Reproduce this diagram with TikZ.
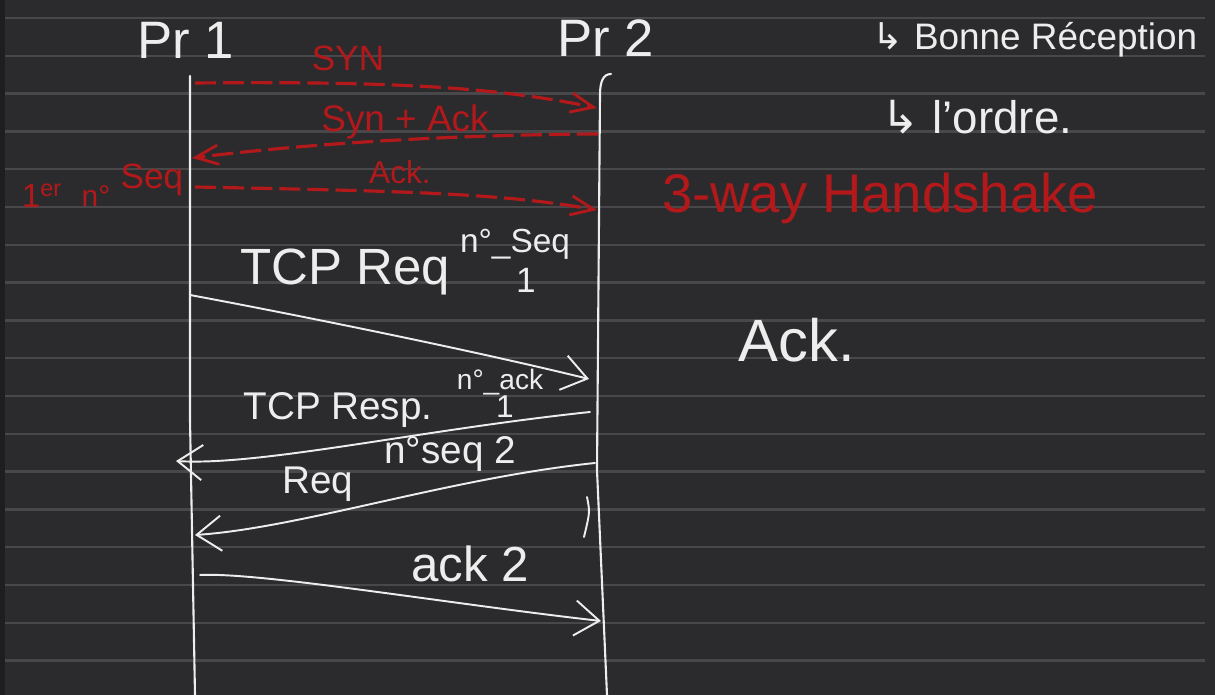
\documentclass[tikz,border=0pt]{standalone}
\usepackage{fontspec}
\setmainfont{Liberation Sans}
\newfontfamily\symbfont{DejaVu Sans}
\usepackage{xcolor}
\usetikzlibrary{arrows.meta}

\definecolor{board}{HTML}{2B2B2D}
\definecolor{boardedge}{HTML}{1E1E20}
\definecolor{rule}{HTML}{48484B}
\definecolor{chalk}{HTML}{EDEDED}
\definecolor{ink}{HTML}{B3181B}

\tikzset{
  lifeline/.style={chalk, line width=1.2pt, line cap=round},
  msg/.style={chalk, line width=1.1pt, line cap=round,
    -{Straight Barb[length=14pt,width=20pt,line width=1.1pt]}},
  hsmsg/.style={ink, line width=1.8pt, dash pattern=on 12pt off 4pt,
    -{Straight Barb[length=13pt,width=11pt,line width=1.6pt]}},
  note/.style={chalk, inner sep=0pt},
  rednote/.style={ink, inner sep=0pt},
}
\newcommand{\fs}[1]{\fontsize{#1}{#1}\selectfont}

\begin{document}
\begin{tikzpicture}[x=0.02cm,y=-0.02cm]
% Board
\fill[board] (0,0) rectangle (1215,695);
\fill[boardedge] (0,0) rectangle (5,695);
\useasboundingbox (0,0) rectangle (1215,695);
% Ruled lines
\foreach \k in {0,...,17}{
  \draw[rule, line width=1.3pt] (5,18+37.8*\k) -- (1205,18+37.8*\k);
}

% Processes
\node[note, font=\fs{30}] (pr1) at (186,40) {Pr 1};
\node[note, font=\fs{30}] (pr2) at (606,38) {Pr 2};
\coordinate (p1top) at (190,76);
\coordinate (p1bot) at (195,695);
\coordinate (p2top) at (611,74);
\coordinate (p2bot) at (607,695);
\draw[lifeline] (p1top) -- (190,420) -- (p1bot);
\draw[lifeline] (p2top) .. controls (603,74) and (600,82) .. (600,95) -- (597,470) -- (p2bot);

% 3-way handshake
\coordinate (syn-a) at (195,83);
\coordinate (syn-b) at (597,108);
\coordinate (sa-b) at (598,134);
\coordinate (sa-a) at (192,158);
\coordinate (ack-a) at (195,187);
\coordinate (ack-b) at (597,210);
\draw[hsmsg] (syn-a) .. controls (400,81) and (500,88) .. (syn-b);
\draw[hsmsg] (sa-b) .. controls (420,135) and (280,147) .. (sa-a);
\draw[hsmsg] (ack-a) .. controls (400,191) and (500,193) .. (ack-b);
\node[rednote, font=\fs{20}] (synlbl) at (348,58) {SYN};
\node[rednote, font=\fs{21}] (salbl) at (405,122) {Syn + Ack};
\node[rednote, font=\fs{18}] (acklbl) at (400,172) {Ack.};
\node[rednote, font=\fs{19}] (first) at (42,196) {1\textsuperscript{er}};
\node[rednote, font=\fs{17}] (firstno) at (96,196) {n°};
\node[rednote, font=\fs{20}] (firstseq) at (152,180) {Seq};
\node[rednote, font=\fs{31}] (hslbl) at (880,198) {3-way Handshake};

% Notes on the right
\node[note, font=\fs{21}] (bonne) at (1035,40) {{\symbfont ↳} Bonne Réception};
\node[note, font=\fs{26}] (ordre) at (977,117) {{\symbfont ↳} l'ordre.};
\node[note, font=\fs{34}] (acknote) at (797,340) {Ack.};

% Data exchange
\coordinate (req-a) at (190,295);
\coordinate (req-b) at (589,379);
\coordinate (resp-b) at (590,412);
\coordinate (resp-a) at (176,461);
\coordinate (req2-b) at (595,463);
\coordinate (req2-a) at (195,535);
\coordinate (ack2-a) at (200,575);
\coordinate (ack2-b) at (601,621);
\draw[msg] (req-a) .. controls (260,308) and (450,345) .. (req-b);
\draw[msg] (resp-b) .. controls (420,430) and (260,466) .. (resp-a);
\draw[msg] (req2-b) .. controls (450,478) and (300,528) .. (req2-a);
\draw[msg] (ack2-a) .. controls (260,572) and (450,604) .. (ack2-b);
\draw[chalk, line width=1.1pt, line cap=round] (587,497) .. controls (590,512) .. (584,537);

\node[note, font=\fs{29}] (reqlbl) at (345,272) {TCP Req};
\node[note, font=\fs{19}] (seq1) at (515,244) {n°\_Seq};
\node[note, font=\fs{20}] (seq1n) at (526,280) {1};
\node[note, font=\fs{16}] (ack1) at (500,382) {n°\_ack};
\node[note, font=\fs{18}] (ack1n) at (505,407) {1};
\node[note, font=\fs{22}] (resplbl) at (338,410) {TCP Resp.};
\node[note, font=\fs{22}] (req2lbl) at (318,484) {Req};
\node[note, font=\fs{22}] (seq2) at (450,454) {n°seq 2};
\node[note, font=\fs{28}] (ack2lbl) at (470,564) {ack 2};
\end{tikzpicture}
\end{document}
